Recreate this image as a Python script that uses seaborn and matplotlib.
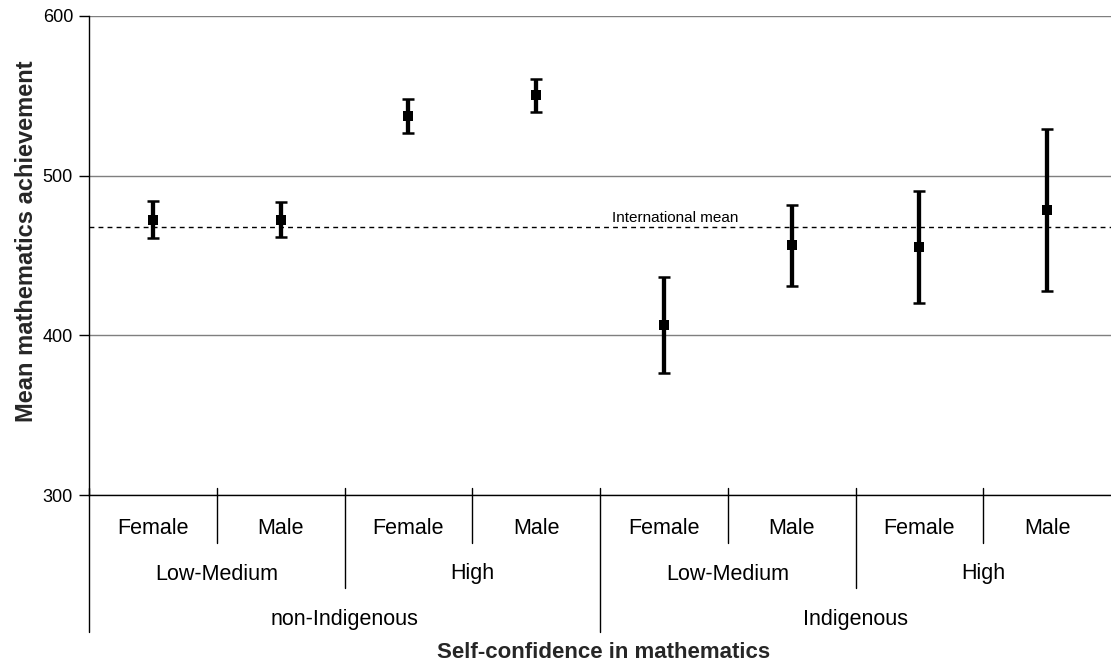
import numpy as np
import pandas as pd
import seaborn as sns
import matplotlib.pyplot as plt
import matplotlib.transforms as mtransforms

# ---------- DATA ----------
gender = ["Female", "Male", "Female", "Male", "Female", "Male", "Female", "Male"]
confidence = ["Low-Medium", "High", "Low-Medium", "High"]
background = ["non-Indigenous", "Indigenous"]
means = [472.5, 472.5, 537.5, 550.3, 406.5, 456.5, 455.2, 478.7]
errors = [11.8, 10.9, 10.5, 10.3, 29.9, 25.3, 35.2, 50.8]
intl_mean = 467.8

df = pd.DataFrame({"pos": np.arange(len(means)), "gender": gender,
                   "mean": means, "err": errors})

# ---------- STYLE ----------
sns.set_theme(style="white")
plt.rcParams["font.family"] = ["Liberation Sans", "DejaVu Sans"]

W, H = 1111, 664
fig = plt.figure(figsize=(W / 100, H / 100), dpi=100)
ax_l, ax_t, ax_b = 89, 16, 495
ax = fig.add_axes([ax_l / W, 1 - ax_b / H, 1 - ax_l / W, (ax_b - ax_t) / H])

# ---------- PLOT ----------
ax.axhline(intl_mean, color="black", lw=1.0, ls=(0, (3.5, 3)), zorder=2)
ax.errorbar(df["pos"], df["mean"], yerr=df["err"], fmt="none", ecolor="black",
            elinewidth=3.1, capsize=4.5, capthick=1.8, zorder=3)
sns.scatterplot(data=df, x="pos", y="mean", marker="s", s=60, color="black",
                edgecolor="black", linewidth=0, ax=ax, zorder=4, legend=False)

ax.text(4.09, intl_mean + 3.2, "International mean", ha="center",
        va="baseline", fontsize=11, color="black")

ax.set_xlim(-0.5, len(means) - 0.5)
ax.set_ylim(300, 600)
ax.set_yticks([300, 400, 500, 600])
ax.yaxis.grid(True, color="#7f7f7f", lw=1.0)
ax.set_axisbelow(True)
ax.tick_params(axis="y", left=True, length=7.2, width=1, color="black",
               labelsize=13, labelcolor="black", pad=4.3)
ax.tick_params(axis="x", bottom=False, labelbottom=False)
ax.set_xlabel("")
ax.set_ylabel("")
for side in ["top", "right"]:
    ax.spines[side].set_visible(False)
for side in ["left", "bottom"]:
    ax.spines[side].set_color("black")
    ax.spines[side].set_linewidth(1.0)

# ---------- HIERARCHICAL CATEGORY AXIS ----------
trans = mtransforms.blended_transform_factory(ax.transData, ax.transAxes)


def ypx(p):
    return (ax_b - p) / (ax_b - ax_t)


for i, g in enumerate(gender):
    ax.text(i, ypx(529), g, transform=trans, ha="center", va="center",
            fontsize=15.5, color="black")
for j, c in enumerate(confidence):
    ax.text(2 * j + 0.5, ypx(574), c, transform=trans, ha="center",
            va="center", fontsize=15.5, color="black")
for k, b in enumerate(background):
    ax.text(4 * k + 1.5, ypx(619), b, transform=trans, ha="center",
            va="center", fontsize=15.5, color="black")

for x in [0.5, 2.5, 4.5, 6.5]:
    ax.plot([x, x], [ypx(488), ypx(543)], transform=trans, color="black",
            lw=1.0, clip_on=False)
for x in [1.5, 5.5]:
    ax.plot([x, x], [ypx(488), ypx(588)], transform=trans, color="black",
            lw=1.0, clip_on=False)
for x in [-0.5, 3.5]:
    ax.plot([x, x], [ypx(488), ypx(632)], transform=trans, color="black",
            lw=1.0, clip_on=False)

fig.text(603.5 / W, 1 - 652 / H, "Self-confidence in mathematics",
         ha="center", va="center", fontsize=16, fontweight="bold")
fig.text(27 / W, 1 - 241 / H, "Mean mathematics achievement", rotation=90,
         ha="center", va="center", fontsize=17, fontweight="bold")

fig.savefig("out.png", dpi=100)
